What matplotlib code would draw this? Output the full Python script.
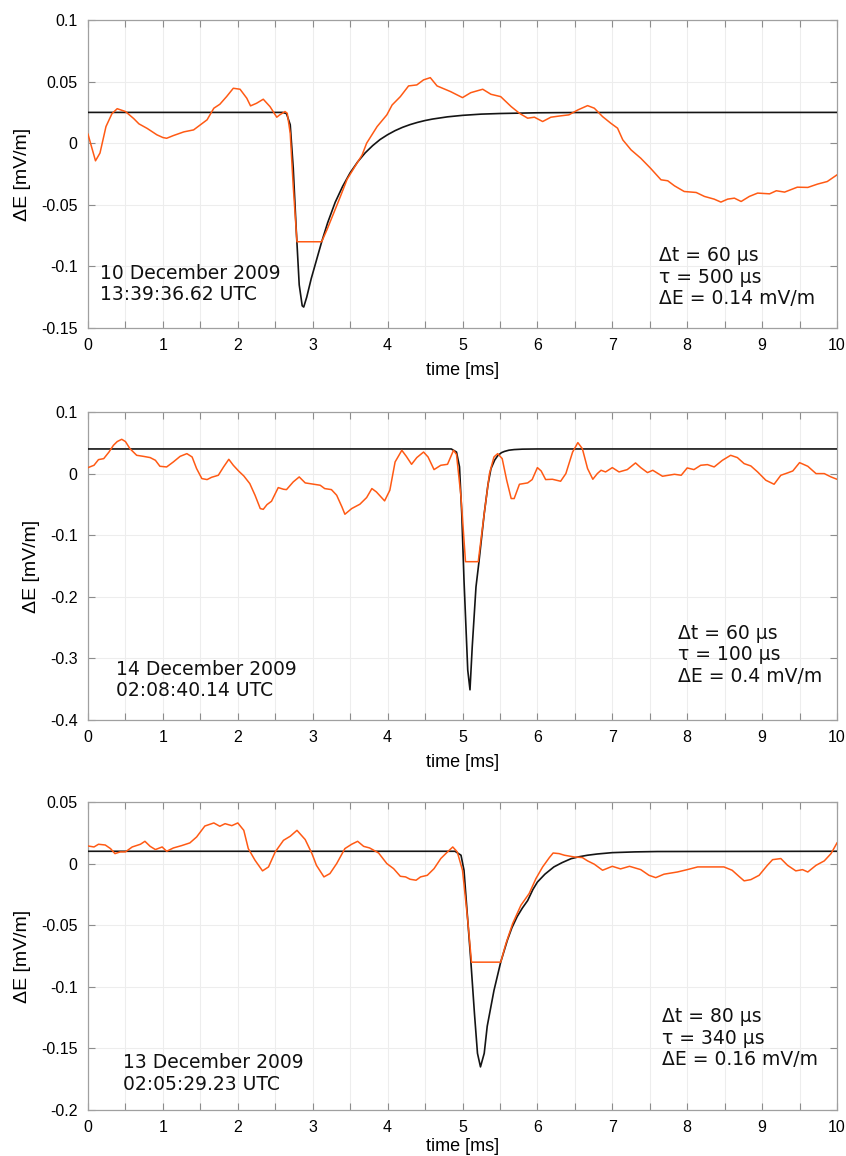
import matplotlib
matplotlib.use("Agg")
import matplotlib.pyplot as plt
import numpy as np

plt.rcParams['axes.unicode_minus'] = False

ORANGE = '#ff5a14'
BLACK = '#141414'

# ---------------- Panel 1: 10 December 2009 ----------------
t1_obs = [0, 0.1, 0.16, 0.24, 0.32, 0.39, 0.5, 0.61, 0.68, 0.79, 0.92, 1.0, 1.05, 1.14, 1.28,
          1.41, 1.5, 1.59, 1.68, 1.76, 1.85, 1.94, 2.03, 2.12, 2.17, 2.25, 2.34, 2.43, 2.52,
          2.56, 2.63, 2.66, 2.70, 2.74, 2.79, 3.12, 3.19, 3.28, 3.37, 3.46, 3.55, 3.66, 3.72,
          3.86, 3.99, 4.06, 4.17, 4.28, 4.39, 4.48, 4.57, 4.66, 4.84, 5.0, 5.11, 5.27, 5.38,
          5.51, 5.65, 5.76, 5.87, 5.96, 6.07, 6.18, 6.31, 6.42, 6.54, 6.67, 6.76, 6.87, 6.98,
          7.07, 7.14, 7.25, 7.38, 7.51, 7.65, 7.74, 7.83, 7.96, 8.12, 8.23, 8.36, 8.45, 8.54,
          8.63, 8.72, 8.83, 8.94, 9.10, 9.19, 9.30, 9.47, 9.61, 9.74, 9.87, 10.0]
v1_obs = [0.0073, -0.0143, -0.008, 0.0135, 0.024, 0.028, 0.0257, 0.020, 0.0157, 0.012, 0.0068,
          0.0046, 0.004, 0.0062, 0.0092, 0.0108, 0.0149, 0.019, 0.0284, 0.0316, 0.0378, 0.0446,
          0.0438, 0.0365, 0.0303, 0.0324, 0.0357, 0.0297, 0.0211, 0.023, 0.0257, 0.0243, 0.008,
          -0.035, -0.080, -0.080, -0.0703, -0.0568, -0.0432, -0.0292, -0.0203, -0.0095, 0.0,
          0.0135, 0.023, 0.031, 0.0378, 0.0465, 0.0473, 0.0514, 0.0532, 0.0465, 0.0419, 0.037,
          0.041, 0.0438, 0.0397, 0.0378, 0.0297, 0.0243, 0.0203, 0.0211, 0.0176, 0.0211, 0.0222,
          0.023, 0.027, 0.0305, 0.0284, 0.0216, 0.0162, 0.0122, 0.0027, -0.0054, -0.0122,
          -0.0203, -0.0297, -0.0305, -0.0346, -0.0392, -0.040, -0.0432, -0.0454, -0.0478,
          -0.0454, -0.0446, -0.0473, -0.0432, -0.0405, -0.0411, -0.0386, -0.0397, -0.0357,
          -0.0359, -0.0332, -0.0311, -0.0257]
t1_fit = [0, 2.60, 2.65, 2.70, 2.74, 2.78, 2.82, 2.86, 2.88, 2.92, 2.98, 3.05, 3.12, 3.2, 3.3,
          3.4, 3.5, 3.6, 3.7, 3.8, 3.9, 4.0, 4.1, 4.2, 4.3, 4.4, 4.5, 4.6, 4.8, 5.0, 5.25, 5.5,
          6.0, 6.5, 10.0]
v1_fit = [0.025, 0.025, 0.024, 0.015, -0.02, -0.07, -0.115, -0.132, -0.133, -0.125, -0.11,
          -0.095, -0.08, -0.0645, -0.048, -0.035, -0.024, -0.0152, -0.0079, -0.002, 0.003,
          0.0069, 0.0102, 0.0129, 0.0151, 0.0169, 0.0184, 0.0196, 0.0214, 0.0226, 0.0236,
          0.0241, 0.0247, 0.0249, 0.025]

# ---------------- Panel 2: 14 December 2009 ----------------
t2_obs = [0, 0.08, 0.14, 0.21, 0.28, 0.34, 0.39, 0.45, 0.5, 0.56, 0.65, 0.74, 0.83, 0.9, 0.96,
          1.05, 1.14, 1.23, 1.32, 1.39, 1.45, 1.52, 1.59, 1.65, 1.74, 1.81, 1.88, 1.94, 2.01,
          2.08, 2.16, 2.23, 2.30, 2.34, 2.39, 2.45, 2.54, 2.61, 2.65, 2.74, 2.82, 2.90, 2.99,
          3.10, 3.16, 3.25, 3.32, 3.39, 3.43, 3.52, 3.63, 3.72, 3.79, 3.85, 3.96, 4.03, 4.10,
          4.19, 4.25, 4.32, 4.39, 4.48, 4.54, 4.62, 4.71, 4.80, 4.88, 4.92, 4.98, 5.04, 5.21,
          5.29, 5.36, 5.42, 5.47, 5.53, 5.59, 5.65, 5.69, 5.76, 5.87, 5.93, 6.0, 6.05, 6.11,
          6.20, 6.31, 6.38, 6.47, 6.54, 6.60, 6.67, 6.74, 6.80, 6.85, 6.91, 7.0, 7.09, 7.20,
          7.31, 7.38, 7.47, 7.54, 7.67, 7.83, 7.92, 8.0, 8.09, 8.18, 8.27, 8.36, 8.47, 8.58,
          8.67, 8.76, 8.85, 8.94, 9.05, 9.16, 9.25, 9.34, 9.41, 9.50, 9.61, 9.72, 9.83, 9.92,
          10.0]
v2_obs = [0.0097, 0.0135, 0.0227, 0.0243, 0.035, 0.046, 0.052, 0.0557, 0.052, 0.0405, 0.0297,
          0.028, 0.026, 0.0216, 0.0119, 0.0108, 0.019, 0.028, 0.0324, 0.027, 0.0081, -0.0081,
          -0.0097, -0.006, -0.0027, 0.0108, 0.0232, 0.0135, 0.0043, -0.0038, -0.0162, -0.0351,
          -0.0568, -0.058, -0.0503, -0.0449, -0.0227, -0.0254, -0.026, -0.0135, -0.0054,
          -0.0151, -0.0168, -0.0189, -0.0243, -0.026, -0.0351, -0.054, -0.066, -0.0568,
          -0.0497, -0.0389, -0.0243, -0.0297, -0.0443, -0.027, 0.0189, 0.0378, 0.028, 0.0151,
          0.026, 0.035, 0.027, 0.0065, 0.0135, 0.0151, 0.0378, 0.031, -0.0378, -0.143, -0.143,
          -0.065, 0.0, 0.027, 0.0324, 0.0243, -0.0108, -0.0405, -0.0405, -0.0173, -0.0151,
          -0.0097, 0.0097, 0.0043, -0.0097, -0.0092, -0.0124, 0.0, 0.035, 0.0503, 0.0405,
          0.0081, -0.0092, 0.0, 0.0054, 0.0027, 0.0097, 0.0027, 0.0065, 0.0173, 0.0097, 0.0016,
          0.0054, -0.0043, -0.0011, -0.0027, 0.0092, 0.0065, 0.0135, 0.0146, 0.0108, 0.0216,
          0.0297, 0.026, 0.0162, 0.0124, 0.0027, -0.0108, -0.0173, -0.0027, 0.0011, 0.0043,
          0.0178, 0.0119, 0.0, 0.0, -0.0054, -0.0092]
t2_fit = [0, 4.85, 4.92, 4.96, 4.99, 5.02, 5.07, 5.10, 5.13, 5.18, 5.22, 5.29, 5.34, 5.38, 5.43,
          5.47, 5.52, 5.56, 5.62, 5.69, 5.8, 6.0, 10.0]
v2_fit = [0.04, 0.04, 0.035, 0.011, -0.065, -0.173, -0.319, -0.351, -0.281, -0.184, -0.143,
          -0.065, -0.018, 0.008, 0.022, 0.029, 0.034, 0.036, 0.038, 0.039, 0.0397, 0.04, 0.04]

# ---------------- Panel 3: 13 December 2009 ----------------
t3_obs = [0, 0.08, 0.14, 0.23, 0.30, 0.36, 0.43, 0.5, 0.59, 0.70, 0.76, 0.83, 0.90, 0.99, 1.05,
          1.14, 1.25, 1.36, 1.45, 1.56, 1.68, 1.76, 1.83, 1.92, 2.0, 2.08, 2.14, 2.23, 2.33,
          2.41, 2.50, 2.61, 2.70, 2.79, 2.90, 2.99, 3.05, 3.15, 3.23, 3.32, 3.43, 3.52, 3.60,
          3.68, 3.76, 3.88, 3.99, 4.08, 4.17, 4.24, 4.30, 4.38, 4.44, 4.53, 4.62, 4.71, 4.80,
          4.87, 4.93, 5.0, 5.07, 5.12, 5.51, 5.58, 5.67, 5.78, 5.89, 5.98, 6.07, 6.16, 6.21,
          6.29, 6.36, 6.49, 6.60, 6.67, 6.76, 6.87, 7.0, 7.11, 7.23, 7.38, 7.49, 7.58, 7.69,
          7.87, 8.0, 8.14, 8.27, 8.40, 8.49, 8.60, 8.69, 8.76, 8.85, 8.96, 9.07, 9.14, 9.25,
          9.34, 9.45, 9.54, 9.61, 9.72, 9.83, 9.92, 10.0]
v3_obs = [0.0143, 0.0135, 0.0157, 0.0151, 0.0122, 0.0081, 0.0095, 0.0095, 0.0135, 0.0157,
          0.0181, 0.014, 0.0114, 0.0135, 0.010, 0.0127, 0.0146, 0.0168, 0.0216, 0.0305, 0.033,
          0.0303, 0.0324, 0.0308, 0.033, 0.027, 0.0122, 0.0027, -0.0059, -0.0027, 0.0095,
          0.0189, 0.0222, 0.027, 0.0195, 0.0081, -0.0014, -0.0108, -0.0081, 0.0, 0.0122,
          0.0157, 0.0181, 0.014, 0.0127, 0.0086, 0.0, -0.0041, -0.0103, -0.0108, -0.0127,
          -0.0135, -0.0108, -0.0095, -0.0041, 0.0041, 0.0095, 0.0135, 0.0095, -0.0054, -0.046,
          -0.080, -0.080, -0.0649, -0.0486, -0.0338, -0.0243, -0.0122, -0.0027, 0.0049, 0.0086,
          0.0081, 0.0068, 0.0054, 0.0049, 0.0022, -0.0005, -0.0054, -0.0022, -0.0043, -0.0022,
          -0.0049, -0.0095, -0.0114, -0.0086, -0.0068, -0.0049, -0.0027, -0.0027, -0.0027,
          -0.0027, -0.0054, -0.0103, -0.014, -0.013, -0.0095, -0.0014, 0.0032, 0.0041, -0.0014,
          -0.0059, -0.0049, -0.0068, -0.0014, 0.0022, 0.0081, 0.0168]
t3_fit = [0, 4.90, 4.98, 5.02, 5.07, 5.11, 5.16, 5.20, 5.24, 5.29, 5.33, 5.42, 5.51, 5.60, 5.66,
          5.73, 5.80, 5.87, 5.94, 6.0, 6.1, 6.22, 6.33, 6.45, 6.56, 6.67, 6.8, 7.0, 7.3, 7.6,
          10.0]
v3_fit = [0.01, 0.01, 0.0068, -0.0054, -0.046, -0.078, -0.122, -0.154, -0.165, -0.154, -0.132,
          -0.103, -0.08, -0.062, -0.052, -0.043, -0.036, -0.03, -0.021, -0.015, -0.0086,
          -0.0027, 0.0008, 0.004, 0.0056, 0.0068, 0.0078, 0.0089, 0.0095, 0.0098, 0.01]

# ---------------- Axis settings / labels ----------------
x_ticks = [0, 1, 2, 3, 4, 5, 6, 7, 8, 9, 10]
y1_ticks = [0.1, 0.05, 0, -0.05, -0.1, -0.15]
y1_labels = ['0.1', '0.05', '0', '-0.05', '-0.1', '-0.15']
y2_ticks = [0.1, 0, -0.1, -0.2, -0.3, -0.4]
y2_labels = ['0.1', '0', '-0.1', '-0.2', '-0.3', '-0.4']
y3_ticks = [0.05, 0, -0.05, -0.1, -0.15, -0.2]
y3_labels = ['0.05', '0', '-0.05', '-0.1', '-0.15', '-0.2']

dates = ['10 December 2009\n13:39:36.62 UTC',
         '14 December 2009\n02:08:40.14 UTC',
         '13 December 2009\n02:05:29.23 UTC']
params = ['\u0394t = 60 \u00b5s\n\u03c4 = 500 \u00b5s\n\u0394E = 0.14 mV/m',
          '\u0394t = 60 \u00b5s\n\u03c4 = 100 \u00b5s\n\u0394E = 0.4 mV/m',
          '\u0394t = 80 \u00b5s\n\u03c4 = 340 \u00b5s\n\u0394E = 0.16 mV/m']

panels = [
    (t1_obs, v1_obs, t1_fit, v1_fit, y1_ticks, y1_labels, (-0.15, 0.1)),
    (t2_obs, v2_obs, t2_fit, v2_fit, y2_ticks, y2_labels, (-0.4, 0.1)),
    (t3_obs, v3_obs, t3_fit, v3_fit, y3_ticks, y3_labels, (-0.2, 0.05)),
]

# layout (figure fractions)
W, H = 846, 1156
ax_left, ax_w = 88 / W, 749 / W
ax_h = 308 / H
ax_bottoms = [1 - 328 / H, 1 - 720 / H, 1 - 1110 / H]
date_pos = [(0.0164, 0.207), (0.0374, 0.194), (0.0467, 0.184)]
param_pos = [(0.763, 0.265), (0.788, 0.311), (0.767, 0.333)]
xlabel_pads = [6, 6, 2]

fig = plt.figure(figsize=(W / 100, H / 100), dpi=100)

TICKFONT = ['Liberation Sans', 'DejaVu Sans']
TEXTFONT = ['DejaVu Sans']

for i, (to, vo, tf, vf, yt, yl, ylim) in enumerate(panels):
    ax = fig.add_axes([ax_left, ax_bottoms[i], ax_w, ax_h])
    ax.plot(tf, vf, color=BLACK, lw=1.2, zorder=3)
    ax.plot(to, vo, color=ORANGE, lw=1.1, zorder=4)
    ax.set_xlim(0, 10)
    ax.set_ylim(*ylim)
    ax.set_xticks(x_ticks)
    ax.set_xticklabels([str(x) for x in x_ticks], fontfamily=TICKFONT, fontsize=11.5)
    ax.set_xticks(np.arange(0.5, 10, 1.0), minor=True)
    ax.set_yticks(yt)
    ax.set_yticklabels(yl, fontfamily=TICKFONT, fontsize=11.5)
    ax.grid(True, which='both', axis='x', color='#ededed', lw=0.8, zorder=0)
    ax.grid(True, which='major', axis='y', color='#ededed', lw=0.8, zorder=0)
    ax.tick_params(which='both', direction='in', top=True, right=True, length=5,
                   width=0.8, color='#8c8c8c', pad=7.5)
    for s in ax.spines.values():
        s.set_color('#a0a0a0')
        s.set_linewidth(0.9)
    ax.set_xlabel('time [ms]', fontfamily=TICKFONT, fontsize=13, labelpad=xlabel_pads[i])
    ax.set_ylabel('\u0394E [mV/m]', fontfamily=TICKFONT, fontsize=14, labelpad=7)
    ax.set_axisbelow(True)
    ax.text(date_pos[i][0], date_pos[i][1], dates[i], transform=ax.transAxes,
            ha='left', va='top', fontsize=13.5, fontfamily=TEXTFONT, color='#111111',
            linespacing=1.15)
    ax.text(param_pos[i][0], param_pos[i][1], params[i], transform=ax.transAxes,
            ha='left', va='top', fontsize=13.5, fontfamily=TEXTFONT, color='#111111',
            linespacing=1.15)

fig.savefig('out.png', dpi=100)
